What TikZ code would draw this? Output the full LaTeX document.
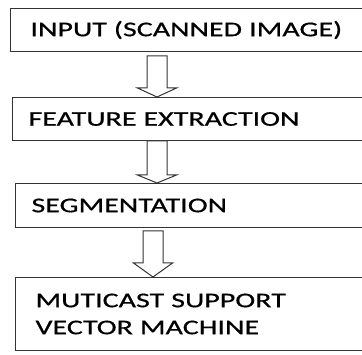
\documentclass[tikz,border=0pt]{standalone}
\usepackage{fontspec}
\newfontfamily\stagefont[FakeStretch=1.43, FakeBold=0.6]{Carlito}
\usetikzlibrary{calc}

% hollow block arrow: from, to, centre x, head length, gap below "from"
\newcommand{\flowarrow}[5]{%
  \draw[hollow] let \p1=(#1.south), \p2=(#2.north) in
    (#3pt-10pt,\y1-#5pt) -- (#3pt+10pt,\y1-#5pt) -- (#3pt+10pt,\y2+#4pt)
    -- (#3pt+19.5pt,\y2+#4pt) -- (#3pt,\y2) -- (#3pt-19.5pt,\y2+#4pt)
    -- (#3pt-10pt,\y2+#4pt) -- cycle;
}

\begin{document}
\begin{tikzpicture}[x=1pt, y=1pt,
    stage/.style={draw=black!80, line width=1pt, anchor=north west,
      font=\stagefont\fontsize{21}{27}\selectfont, text width=330pt, align=left},
    hollow/.style={draw=black!80, line width=1pt, fill=white}]
  \clip (0,0) rectangle (362,354);
  \fill[white] (0,0) rectangle (362,354);

  \node[stage, inner xsep=20pt, minimum height=43pt] (input) at (10,346) {INPUT (SCANNED IMAGE)};
  \node[stage, inner xsep=16pt, minimum height=43pt] (feature) at (12,257) {FEATURE EXTRACTION};
  \node[stage, inner xsep=16pt, minimum height=44pt] (segment) at (15,171) {SEGMENTATION};
  \node[stage, inner xsep=20pt, minimum height=73pt] (svm) at (15,77) {MUTICAST SUPPORT\\VECTOR MACHINE};

  \flowarrow{input}{feature}{157}{9}{4}
  \flowarrow{feature}{segment}{157}{8}{0}
  \flowarrow{segment}{svm}{153}{14}{3}
\end{tikzpicture}
\end{document}
